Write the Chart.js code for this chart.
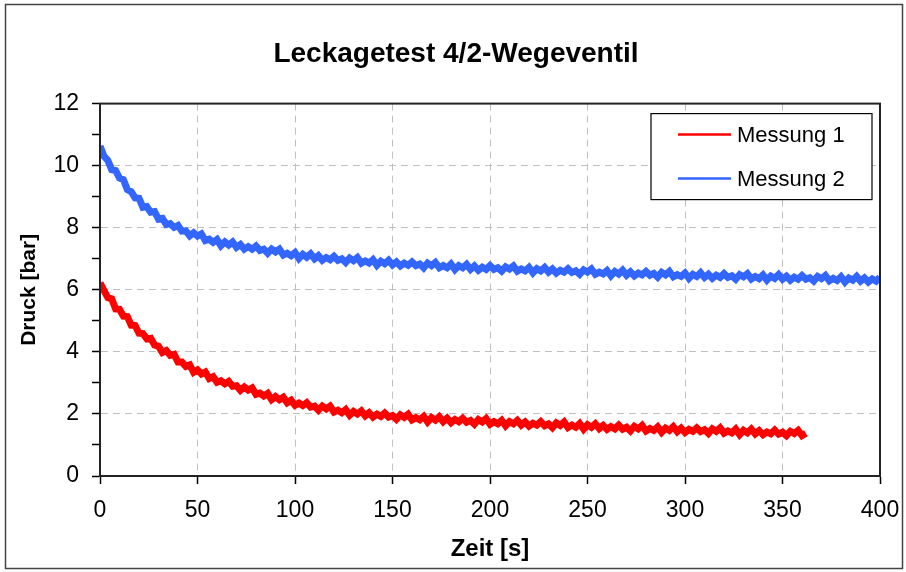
<!DOCTYPE html>
<html>
<head>
<meta charset="utf-8">
<title>Leckagetest 4/2-Wegeventil</title>
<script src="https://cdn.jsdelivr.net/npm/chart.js@4/dist/chart.umd.min.js"></script>
<style>
    html, body { margin: 0; padding: 0; background: #fff; }
    #wrap { width: 906px; height: 572px; position: relative; }
</style>
</head>
<body>
<div id="wrap"><canvas id="leakChart"></canvas></div>
<script>
const chartTitle = 'Leckagetest 4/2-Wegeventil';
const xAxisTitle = 'Zeit [s]';
const yAxisTitle = 'Druck [bar]';
const seriesNames = ['Messung 1', 'Messung 2'];

// sample times in s (logger writes every 2 s), Messung 1 stops after 362 s
const times = [0, 2, 4, 6, 8, 10, 12, 14, 16, 18, 20, 22, 24, 26, 28, 30, 32, 34, 36, 38,
    40, 42, 44, 46, 48, 50, 52, 54, 56, 58, 60, 62, 64, 66, 68, 70, 72, 74, 76, 78,
    80, 82, 84, 86, 88, 90, 92, 94, 96, 98, 100, 102, 104, 106, 108, 110, 112, 114, 116, 118,
    120, 122, 124, 126, 128, 130, 132, 134, 136, 138, 140, 142, 144, 146, 148, 150, 152, 154, 156, 158,
    160, 162, 164, 166, 168, 170, 172, 174, 176, 178, 180, 182, 184, 186, 188, 190, 192, 194, 196, 198,
    200, 202, 204, 206, 208, 210, 212, 214, 216, 218, 220, 222, 224, 226, 228, 230, 232, 234, 236, 238,
    240, 242, 244, 246, 248, 250, 252, 254, 256, 258, 260, 262, 264, 266, 268, 270, 272, 274, 276, 278,
    280, 282, 284, 286, 288, 290, 292, 294, 296, 298, 300, 302, 304, 306, 308, 310, 312, 314, 316, 318,
    320, 322, 324, 326, 328, 330, 332, 334, 336, 338, 340, 342, 344, 346, 348, 350, 352, 354, 356, 358,
    360, 362, 364, 366, 368, 370, 372, 374, 376, 378, 380, 382, 384, 386, 388, 390, 392, 394, 396, 398, 400];

// Messung 1 pressure in bar (red)
const druckM1 = [6.22, 5.98, 5.75, 5.71, 5.38, 5.37, 5.15, 5.14, 4.86, 4.85, 4.60, 4.59, 4.42, 4.44, 4.22, 4.18, 3.98, 4.04, 3.89, 3.92,
    3.67, 3.67, 3.53, 3.58, 3.34, 3.42, 3.29, 3.35, 3.14, 3.20, 3.02, 3.07, 2.97, 3.05, 2.89, 2.91, 2.76, 2.87, 2.77, 2.84,
    2.63, 2.67, 2.58, 2.66, 2.46, 2.56, 2.46, 2.54, 2.36, 2.44, 2.28, 2.35, 2.27, 2.36, 2.22, 2.25, 2.12, 2.25, 2.16, 2.25,
    2.06, 2.12, 2.04, 2.14, 1.96, 2.08, 2.00, 2.10, 1.94, 2.04, 1.90, 1.99, 1.92, 2.03, 1.90, 1.95, 1.83, 1.97, 1.89, 1.99,
    1.81, 1.88, 1.81, 1.92, 1.74, 1.88, 1.80, 1.91, 1.75, 1.86, 1.72, 1.82, 1.75, 1.86, 1.73, 1.79, 1.67, 1.82, 1.74, 1.85,
    1.67, 1.75, 1.68, 1.79, 1.62, 1.75, 1.68, 1.79, 1.64, 1.74, 1.61, 1.70, 1.64, 1.75, 1.62, 1.68, 1.56, 1.71, 1.63, 1.74,
    1.56, 1.64, 1.57, 1.69, 1.51, 1.65, 1.57, 1.68, 1.53, 1.63, 1.50, 1.59, 1.52, 1.64, 1.51, 1.57, 1.45, 1.60, 1.52, 1.63,
    1.45, 1.53, 1.47, 1.58, 1.41, 1.54, 1.47, 1.59, 1.43, 1.54, 1.40, 1.50, 1.44, 1.55, 1.43, 1.49, 1.37, 1.52, 1.44, 1.55,
    1.38, 1.45, 1.39, 1.51, 1.33, 1.47, 1.39, 1.51, 1.36, 1.46, 1.33, 1.42, 1.36, 1.48, 1.35, 1.41, 1.30, 1.44, 1.37, 1.47,
    1.30, 1.38];

// Messung 2 pressure in bar (blue)
const druckM2 = [10.63, 10.31, 10.17, 9.87, 9.84, 9.60, 9.55, 9.23, 9.16, 8.96, 8.95, 8.66, 8.68, 8.50, 8.52, 8.28, 8.30, 8.10, 8.13, 8.01,
    8.07, 7.89, 7.90, 7.74, 7.84, 7.73, 7.80, 7.59, 7.63, 7.53, 7.62, 7.42, 7.54, 7.44, 7.54, 7.37, 7.46, 7.31, 7.39, 7.31,
    7.41, 7.27, 7.31, 7.18, 7.31, 7.22, 7.31, 7.12, 7.18, 7.10, 7.20, 7.01, 7.14, 7.05, 7.16, 7.00, 7.10, 6.95, 7.04, 6.97,
    7.08, 6.95, 7.00, 6.88, 7.02, 6.94, 7.04, 6.86, 6.93, 6.86, 6.97, 6.79, 6.92, 6.84, 6.95, 6.80, 6.90, 6.77, 6.86, 6.79,
    6.90, 6.78, 6.83, 6.71, 6.86, 6.78, 6.88, 6.71, 6.78, 6.71, 6.83, 6.65, 6.78, 6.71, 6.82, 6.66, 6.77, 6.63, 6.73, 6.66,
    6.78, 6.66, 6.71, 6.60, 6.74, 6.67, 6.77, 6.60, 6.67, 6.61, 6.72, 6.55, 6.68, 6.61, 6.72, 6.57, 6.67, 6.54, 6.63, 6.57,
    6.68, 6.56, 6.61, 6.50, 6.64, 6.57, 6.67, 6.50, 6.57, 6.51, 6.62, 6.45, 6.59, 6.51, 6.63, 6.47, 6.58, 6.45, 6.54, 6.48,
    6.59, 6.47, 6.53, 6.41, 6.56, 6.48, 6.59, 6.42, 6.49, 6.43, 6.54, 6.37, 6.50, 6.43, 6.55, 6.40, 6.50, 6.37, 6.47, 6.40,
    6.52, 6.40, 6.45, 6.34, 6.49, 6.42, 6.52, 6.35, 6.43, 6.36, 6.48, 6.31, 6.44, 6.37, 6.49, 6.34, 6.44, 6.31, 6.41, 6.34,
    6.46, 6.34, 6.39, 6.28, 6.43, 6.36, 6.46, 6.29, 6.37, 6.30, 6.42, 6.25, 6.38, 6.31, 6.43, 6.28, 6.38, 6.25, 6.35, 6.28, 6.40];

const seriesColors = ['#ff0000', '#3366ff'];

const FONT = '"Liberation Sans", Arial, sans-serif';

const toPoints = (xs, ys) => ys.map((y, i) => ({ x: xs[i], y: y }));

// frame around the plot, outer border and the boxed legend inside the plot
const framePlugin = {
    id: 'frame',
    beforeDraw(chart) {
        const ctx = chart.ctx;
        ctx.save();
        ctx.fillStyle = '#fff';
        ctx.fillRect(0, 0, chart.width, chart.height);
        ctx.strokeStyle = '#444';
        ctx.lineWidth = 1.5;
        ctx.strokeRect(5.5, 4.5, chart.width - 9, chart.height - 8);
        ctx.restore();
    },
    afterDraw(chart) {
        const ctx = chart.ctx;
        const a = chart.chartArea;
        ctx.save();
        ctx.strokeStyle = '#222';
        ctx.lineWidth = 2;
        ctx.strokeRect(a.left, a.top, a.right - a.left, a.bottom - a.top);

        // legend box
        const bx = a.right - 229, by = a.top + 10, bw = 221, bh = 86;
        ctx.fillStyle = '#fff';
        ctx.fillRect(bx, by, bw, bh);
        ctx.strokeStyle = '#000';
        ctx.lineWidth = 1.2;
        ctx.strokeRect(bx, by, bw, bh);
        ctx.font = '22px ' + FONT;
        ctx.textBaseline = 'middle';
        chart.data.datasets.forEach((ds, i) => {
            const y = by + 21 + i * 44;
            ctx.strokeStyle = ds.borderColor;
            ctx.lineWidth = 2.5;
            ctx.beginPath();
            ctx.moveTo(bx + 27, y);
            ctx.lineTo(bx + 80, y);
            ctx.stroke();
            ctx.fillStyle = '#000';
            ctx.fillText(ds.label, bx + 86, y + 1);
        });
        ctx.restore();
    }
};

const ctx = document.getElementById('leakChart').getContext('2d');
new Chart(ctx, {
    type: 'line',
    data: {
        datasets: [{
            label: seriesNames[0],
            data: toPoints(times, druckM1),
            borderColor: seriesColors[0],
            backgroundColor: seriesColors[0],
            borderWidth: 7,
            pointRadius: 0,
            tension: 0,
            clip: 0
        }, {
            label: seriesNames[1],
            data: toPoints(times, druckM2),
            borderColor: seriesColors[1],
            backgroundColor: seriesColors[1],
            borderWidth: 7,
            pointRadius: 0,
            tension: 0,
            clip: 0
        }]
    },
    options: {
        responsive: true,
        maintainAspectRatio: false,
        animation: false,
        layout: {
            padding: { left: 6, right: 0, top: 0, bottom: 0 }
        },
        plugins: {
            legend: { display: false },
            tooltip: { enabled: false },
            title: {
                display: true,
                text: chartTitle,
                color: '#000',
                font: { family: FONT, size: 28, weight: 'bold' },
                padding: { top: 37, bottom: 33 }
            }
        },
        scales: {
            x: {
                type: 'linear',
                min: 0,
                max: 400,
                afterFit: function(scale) {
                    scale.height = 96;
                    scale.paddingLeft = 0;
                    scale.paddingRight = 26;
                },
                ticks: {
                    stepSize: 50,
                    color: '#000',
                    padding: 13,
                    maxRotation: 0,
                    font: { family: FONT, size: 23 }
                },
                grid: {
                    color: '#c0c0c0',
                    lineWidth: 1,
                    tickColor: '#000',
                    tickLength: 8,
                    tickWidth: 1.5
                },
                border: { color: '#222', width: 2, dash: [7, 5] },
                title: {
                    display: true,
                    text: xAxisTitle,
                    color: '#000',
                    font: { family: FONT, size: 24, weight: 'bold' },
                    padding: { top: 4, bottom: 8 }
                }
            },
            y: {
                min: 0,
                max: 12,
                afterFit: function(scale) { scale.width = 94; },
                ticks: {
                    stepSize: 1,
                    color: '#000',
                    padding: 13,
                    font: { family: FONT, size: 23 },
                    callback: function(value) {
                        return value % 2 === 0 ? value : '';
                    }
                },
                grid: {
                    color: function(c) {
                        return c.tick && c.tick.value % 2 === 0 ? '#c0c0c0' : 'rgba(0,0,0,0)';
                    },
                    lineWidth: 1,
                    tickColor: '#000',
                    tickLength: 8,
                    tickWidth: 1.5
                },
                border: { color: '#222', width: 2, dash: [7, 5] },
                title: {
                    display: true,
                    text: yAxisTitle,
                    color: '#000',
                    font: { family: FONT, size: 21, weight: 'bold' },
                    padding: { top: 11, bottom: 4 }
                }
            }
        }
    },
    plugins: [framePlugin]
});
</script>
</body>
</html>
